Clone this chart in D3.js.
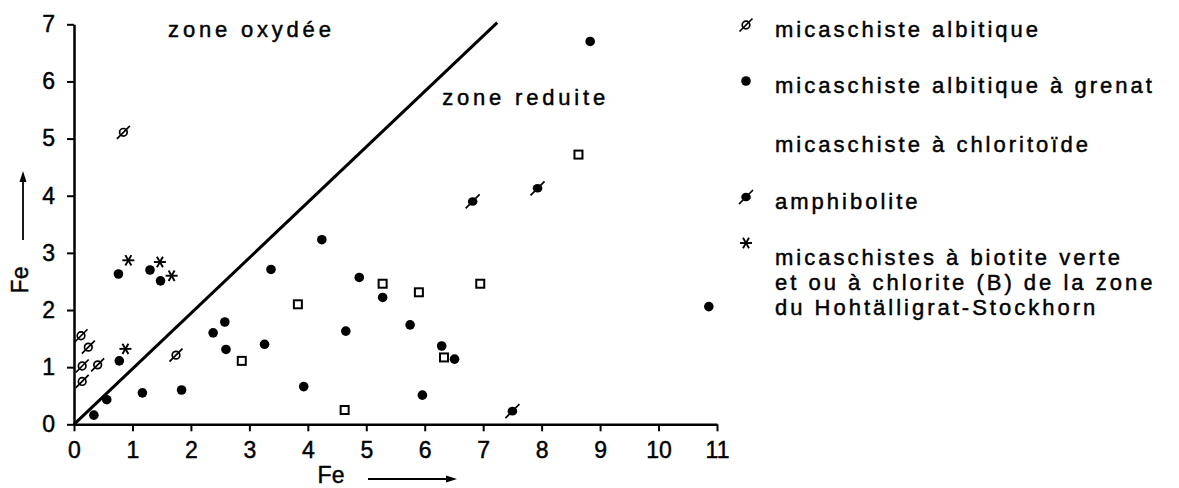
<!DOCTYPE html>
<html><head><meta charset="utf-8">
<script src="https://cdn.jsdelivr.net/npm/d3@7"></script>
<style>
html,body{margin:0;padding:0;background:#fff;}
svg text{font-family:"Liberation Sans",Arial,sans-serif;fill:#000;stroke:#000;stroke-width:0.45px;}
</style></head>
<body><svg id="c" width="1179" height="488"></svg>
<script>
// ---- data ----
const xTicks = [0,1,2,3,4,5,6,7,8,9,10,11];
const yTicks = [0,1,2,3,4,5,6,7];
const albitique = [[0.12,1.55],[0.245,1.35],[0.14,1.02],[0.405,1.04],[0.14,0.75],[1.745,1.21],[0.845,5.11]];
const grenat = [[0.34,0.16],[0.56,0.43],[0.76,2.63],[0.775,1.11],[1.30,2.70],[1.48,2.51],[1.17,0.55],[1.84,0.60],
  [2.38,1.60],[2.58,1.79],[2.60,1.31],[3.26,1.40],[3.37,2.71],[4.24,3.23],[4.88,2.57],[5.28,2.22],[4.65,1.63],
  [5.75,1.74],[6.29,1.37],[6.51,1.14],[3.93,0.66],[5.96,0.51],[8.83,6.70],[10.86,2.06]];
const chloritoide = [[2.87,1.11],[3.83,2.10],[5.28,2.46],[5.90,2.31],[6.95,2.46],[6.33,1.17],[4.63,0.25],[8.63,4.72]];
const amphibolite = [[7.50,0.23],[6.82,3.90],[7.93,4.13]];
const biotite = [[0.93,2.87],[1.47,2.84],[1.67,2.60],[0.88,1.32]];
const boundary = [[0,0],[7.24,7.03]];
const legendLabels = [["micaschiste albitique"],["micaschiste albitique à grenat"],["micaschiste à chloritoïde"],
  ["amphibolite"],["micaschistes à biotite verte","et ou à chlorite (B) de la zone","du Hohtälligrat-Stockhorn"]];
const legendSymbols = ["open","dot",null,"filled","star"];
const zoneLabels = [{t:"zone oxydée", x:1.61, y:6.78},{t:"zone reduite", x:6.30, y:5.58}];
const axisLabel = "Fe";

// ---- drawing ----
const svg = d3.select("#c");
const x = d3.scaleLinear().domain([0,11]).range([74,717]);
const y = d3.scaleLinear().domain([0,7]).range([424.3,24.3]);

const xa = svg.append("g").attr("transform","translate(0,424.3)")
  .call(d3.axisBottom(x).tickValues(xTicks).tickSize(7).tickSizeOuter(0).tickPadding(10).tickFormat(d3.format("d")));
const ya = svg.append("g").attr("transform","translate(74,0)")
  .call(d3.axisLeft(y).tickValues(yTicks).tickSize(7).tickSizeOuter(0).tickPadding(12).tickFormat(d3.format("d")));
[xa,ya].forEach(g=>{
  g.attr("font-size",null).attr("font-family",null);
  g.select(".domain").attr("stroke","#000").attr("stroke-width",2.5);
  g.selectAll(".tick line").attr("stroke","#000").attr("stroke-width",2);
  g.selectAll(".tick text").style("font-size","23px").style("font-family","'Liberation Sans', Arial, sans-serif").attr("fill","#000");
});

// boundary line
svg.append("path").attr("d", d3.line().x(d=>x(d[0])).y(d=>y(d[1]))(boundary))
  .attr("stroke","#000").attr("stroke-width",3).attr("fill","none");

// zone labels
svg.selectAll(".zone").data(zoneLabels).join("text")
  .attr("x",d=>x(d.x)).attr("y",d=>y(d.y)).style("font-size","22px").attr("letter-spacing",3.8).text(d=>d.t);

// symbols
function drawSym(g, type){
  if(type==="open"){
    g.append("circle").attr("r",3.8).attr("fill","#fff").attr("stroke","#000").attr("stroke-width",1.7);
    g.append("line").attr("x1",-6.5).attr("y1",6.5).attr("x2",6.5).attr("y2",-6.5).attr("stroke","#000").attr("stroke-width",1.7);
  } else if(type==="filled"){
    g.append("ellipse").attr("rx",4.8).attr("ry",4.3).attr("fill","#000");
    g.append("line").attr("x1",-7).attr("y1",7).attr("x2",7).attr("y2",-7).attr("stroke","#000").attr("stroke-width",1.7);
  } else if(type==="dot"){
    g.append("circle").attr("r",4.8).attr("fill","#000");
  } else if(type==="square"){
    g.append("rect").attr("x",-4).attr("y",-4).attr("width",8).attr("height",8).attr("fill","#fff").attr("stroke","#000").attr("stroke-width",2);
  } else if(type==="star"){
    const r=6;
    [0,60,120].forEach(a=>{
      const t=a*Math.PI/180;
      g.append("line").attr("x1",-r*Math.cos(t)).attr("y1",-r*Math.sin(t)).attr("x2",r*Math.cos(t)).attr("y2",r*Math.sin(t))
        .attr("stroke","#000").attr("stroke-width",1.9);
    });
  }
}
const series = [[albitique,"open"],[grenat,"dot"],[chloritoide,"square"],[amphibolite,"filled"],[biotite,"star"]];
series.forEach(([data,type])=>{
  svg.append("g").selectAll("g").data(data).join("g")
    .attr("transform",d=>`translate(${x(d[0])},${y(d[1])})`)
    .each(function(){ drawSym(d3.select(this), type); });
});

// axis titles
svg.append("text").attr("x",331).attr("y",483).attr("text-anchor","middle").style("font-size","23px").text(axisLabel);
svg.append("line").attr("x1",368).attr("y1",479).attr("x2",450).attr("y2",479).attr("stroke","#000").attr("stroke-width",1.8);
svg.append("path").attr("d","M457,479 L446,475.5 L446,482.5 Z").attr("fill","#000");
svg.append("text").attr("transform","translate(28,280) rotate(-90)").attr("text-anchor","middle").style("font-size","23px").text(axisLabel);
svg.append("line").attr("x1",23).attr("y1",240).attr("x2",23).attr("y2",180).attr("stroke","#000").attr("stroke-width",1.8);
svg.append("path").attr("d","M23,171 L19.5,182 L26.5,182 Z").attr("fill","#000");

// legend
const rowY = [37,93,152,209,265];
const symDy = [-12,-12,-12,-12,-22];
const lg = svg.append("g");
legendLabels.forEach((lines,i)=>{
  if(legendSymbols[i]){
    const g = lg.append("g").attr("transform",`translate(746,${rowY[i]+symDy[i]})`);
    drawSym(g, legendSymbols[i]);
  }
  lines.forEach((t,j)=>{
    lg.append("text").attr("x",775).attr("y",rowY[i]+j*25).style("font-size","22px").attr("letter-spacing",3.0).text(t);
  });
});
</script></body></html>
